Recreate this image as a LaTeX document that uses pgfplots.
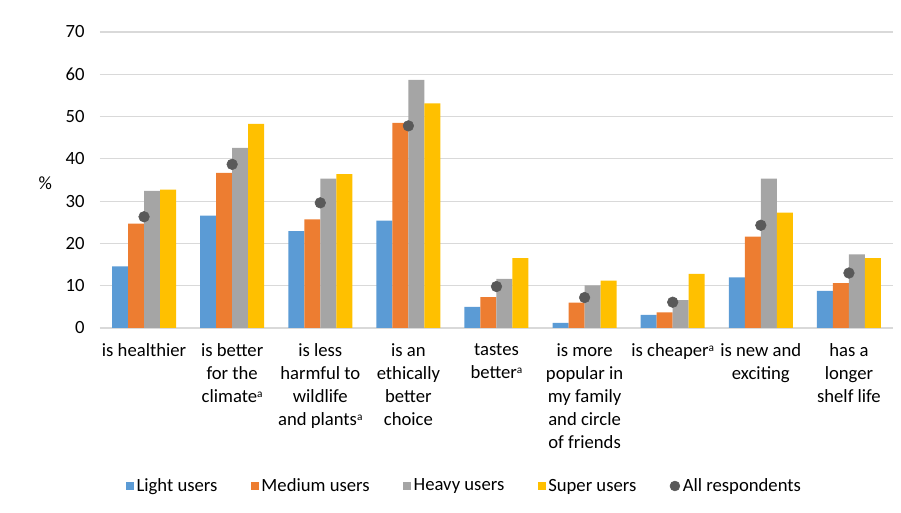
\documentclass[border=0pt]{standalone}
\usepackage{pgfplots}
\pgfplotsset{compat=1.18}
\usepackage{fontspec}
\setmainfont{Carlito}
\definecolor{cL}{HTML}{5B9BD5}
\definecolor{cM}{HTML}{ED7D31}
\definecolor{cH}{HTML}{A5A5A5}
\definecolor{cS}{HTML}{FFC000}
\definecolor{cA}{HTML}{595959}
\definecolor{gridc}{HTML}{D9D9D9}
\newcommand{\supa}{\raisebox{0.55ex}{\fontsize{8.5}{9}\selectfont a}}
\begin{document}
\begin{tikzpicture}
\begin{axis}[name=ax,
  scale only axis, width=594.75pt, height=222pt,
  xmin=-0.5, xmax=8.5, ymin=0, ymax=70,
  ytick={0,10,...,70},
  xtick={0,...,8},
  xticklabels={is healthier, is better\\for the\\climate\supa, is less\\harmful to\\wildlife\\and plants\supa, is an\\ethically\\better\\choice, tastes\\better\supa, is more\\popular in\\my family\\and circle\\of friends, is cheaper\supa, is new and\\exciting, has a\\longer\\shelf life},
  xticklabel style={align=center, anchor=north, yshift=-8pt, font=\fontsize{14}{17.25}\selectfont},
  yticklabel style={font=\fontsize{14}{17.25}\selectfont, xshift=-8pt},
  /pgf/number format/assume math mode=true,
  major tick length=0pt,
  axis x line*=bottom, axis y line*=left,
  x axis line style={draw=gridc, line width=0.8pt, -},
  y axis line style={draw=none},
  ymajorgrids, grid style={draw=gridc, line width=0.8pt},
  ylabel={\%}, ylabel style={rotate=-90, anchor=center, at={(axis description cs:0,0.49)}, xshift=-41pt, font=\fontsize{14}{17.25}\selectfont},
  legend columns=5,
  legend style={draw=none, at={(axis description cs:0.46,0)}, anchor=center, yshift=-118.5pt, font=\fontsize{14}{17.25}\selectfont, /tikz/every even column/.append style={column sep=23pt}},
  legend cell align=left,
]
\addplot[ybar, bar width=12pt, bar shift=-18pt, fill=cL, draw=none,
  legend image code/.code={\fill[cL] (0pt,-3pt) rectangle (6pt,3pt);}]
  coordinates {(0,14.6) (1,26.6) (2,22.9) (3,25.4) (4,5.0) (5,1.2) (6,3.1) (7,12.0) (8,8.8)};
\addlegendentry{Light users}
\addplot[ybar, bar width=12pt, bar shift=-6pt, fill=cM, draw=none,
  legend image code/.code={\fill[cM] (0pt,-3pt) rectangle (6pt,3pt);}]
  coordinates {(0,24.7) (1,36.7) (2,25.7) (3,48.5) (4,7.3) (5,6.0) (6,3.7) (7,21.6) (8,10.6)};
\addlegendentry{Medium users}
\addplot[ybar, bar width=12pt, bar shift=6pt, fill=cH, draw=none,
  legend image code/.code={\fill[cH] (0pt,-3pt) rectangle (6pt,3pt);}]
  coordinates {(0,32.4) (1,42.6) (2,35.3) (3,58.7) (4,11.6) (5,10.1) (6,6.6) (7,35.3) (8,17.4)};
\addlegendentry{Heavy users}
\addplot[ybar, bar width=12pt, bar shift=18pt, fill=cS, draw=none,
  legend image code/.code={\fill[cS] (0pt,-3pt) rectangle (6pt,3pt);}]
  coordinates {(0,32.7) (1,48.3) (2,36.4) (3,53.1) (4,16.5) (5,11.2) (6,12.8) (7,27.3) (8,16.5)};
\addlegendentry{Super users}
\addplot[only marks, mark=*, mark size=4pt, color=cA,
  legend image code/.code={\fill[cA] (3pt,0pt) circle (3.7pt);}]
  coordinates {(0,26.3) (1,38.7) (2,29.6) (3,47.8) (4,9.8) (5,7.2) (6,6.1) (7,24.3) (8,13.0)};
\addlegendentry{All respondents}
\end{axis}
\pgfresetboundingbox
\useasboundingbox (ax.south west) ++(-75pt,-138.75pt) rectangle ++(675.75pt,384.75pt);
\end{tikzpicture}
\end{document}
